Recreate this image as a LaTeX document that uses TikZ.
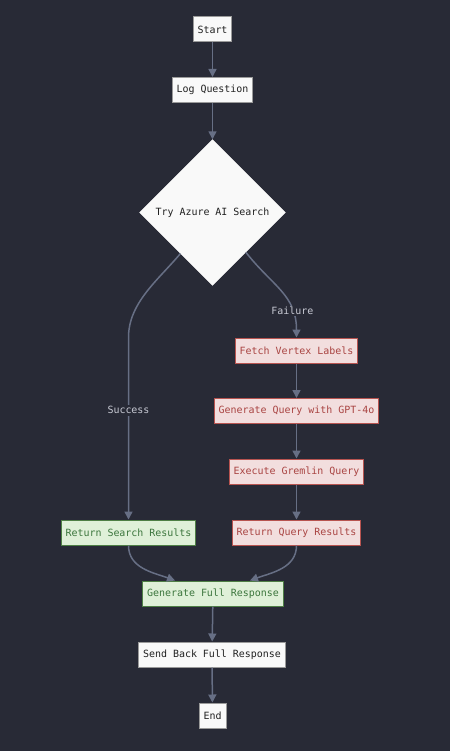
\documentclass[tikz,border=0pt]{standalone}
\usepackage{fontspec}
\setmonofont{DejaVu Sans Mono}
\usetikzlibrary{shapes.geometric,arrows.meta,calc}
\definecolor{bgc}{HTML}{282A36}
\definecolor{edgec}{HTML}{676F85}
\definecolor{plainfill}{HTML}{F9F9F9}
\definecolor{plainline}{HTML}{9A9A9A}
\definecolor{plaintext}{HTML}{222222}
\definecolor{redfill}{HTML}{F2DEDE}
\definecolor{redline}{HTML}{B85450}
\definecolor{redtext}{HTML}{A94442}
\definecolor{greenfill}{HTML}{DFF0D8}
\definecolor{greenline}{HTML}{4E7F45}
\definecolor{greentext}{HTML}{3C763D}
\definecolor{lbltext}{HTML}{C8CAD4}
\begin{document}
\begin{tikzpicture}[x=1bp,y=-1bp,
  every node/.style={font=\ttfamily\fontsize{10}{12}\selectfont},
  box/.style={draw=plainline,fill=plainfill,text=plaintext,line width=1bp,minimum height=25bp,inner xsep=4.5bp,inner ysep=0bp},
  redbox/.style={box,draw=redline,fill=redfill,text=redtext},
  greenbox/.style={box,draw=greenline,fill=greenfill,text=greentext},
  decision/.style={diamond,fill=plainfill,draw=plainfill,text=plaintext,minimum width=146bp,minimum height=146bp,inner sep=0bp,aspect=1},
  edge/.style={draw=edgec,line width=1.5bp,-{Triangle[width=8bp,length=8bp]}},
  lbl/.style={fill=bgc,text=lbltext,inner sep=1.5bp}
]
\fill[bgc] (0,0) rectangle (450,751);
\useasboundingbox (0,0) rectangle (450,751);

\node[box] (start) at (212.5,29.5) {Start};
\node[box] (log) at (212.5,90) {Log Question};
\node[decision] (try) at (212.5,212.5) {Try Azure AI Search};
\node[redbox] (fv) at (296.5,350.5) {Fetch Vertex Labels};
\node[redbox] (gq) at (296.5,411) {Generate Query with GPT-4o};
\node[redbox] (eg) at (296.5,471.5) {Execute Gremlin Query};
\node[redbox] (rq) at (296.5,532.5) {Return Query Results};
\node[greenbox] (rs) at (128.5,532.5) {Return Search Results};
\node[greenbox] (gf) at (213,593.5) {Generate Full Response};
\node[box] (sb) at (212,654.5) {Send Back Full Response};
\node[box] (end) at (212.5,715.5) {End};

\coordinate (sbend) at (rs.north |- fv.north);
\coordinate (gfl) at ($(gf.north)+(-38,0)$);
\coordinate (gfr) at ($(gf.north)+(37,0)$);

\draw[edge] (start) -- (log);
\draw[edge] (log) -- (try);
\draw[edge] (try.232) to[out=230,in=90,looseness=0.9] (sbend) -- node[lbl,pos=0.4]{Success} (rs.north);
\draw[edge] (try.310) to[out=-52,in=90,looseness=1.1] node[lbl,pos=0.75]{Failure} (fv.north);
\draw[edge] (fv) -- (gq);
\draw[edge] (gq) -- (eg);
\draw[edge] (eg) -- (rq);
\draw[edge] (rs.south) to[out=-90,in=160] (gfl);
\draw[edge] (rq.south) to[out=-90,in=20] (gfr);
\draw[edge] (gf) -- (sb);
\draw[edge] (sb) -- (end);
\end{tikzpicture}
\end{document}
